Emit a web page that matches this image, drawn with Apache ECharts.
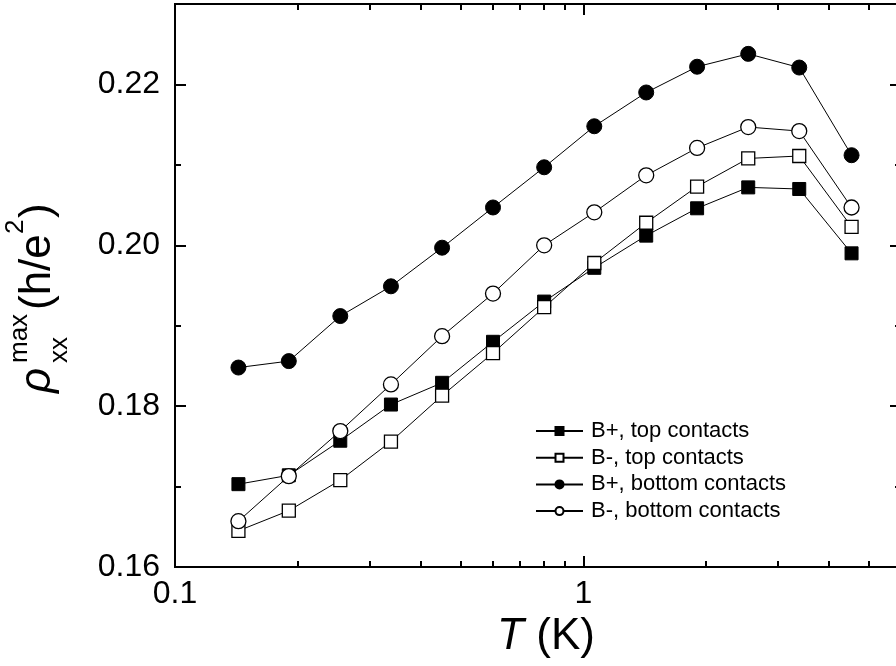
<!DOCTYPE html>
<html>
<head>
<meta charset="utf-8">
<script src="https://cdn.jsdelivr.net/npm/echarts@6/dist/echarts.min.js"></script>
<style>
html,body{margin:0;padding:0;overflow:hidden;background:#fff;width:896px;height:666px;}
#c{width:902px;height:666px;}
</style>
</head>
<body>
<div id="c"></div>
<script>
// Temperatures (K)
const temperatures = [0.143, 0.19, 0.254, 0.338, 0.451, 0.601, 0.802, 1.064, 1.426, 1.90, 2.535, 3.38, 4.54];
// rho_xx^max (h/e^2)
const bPlusTop = [0.1703, 0.1714, 0.1757, 0.1802, 0.1829, 0.1880, 0.1930, 0.1972, 0.2012, 0.2046, 0.2072, 0.2070, 0.1990];
const bMinusTop = [0.1645, 0.1670, 0.1708, 0.1756, 0.1813, 0.1866, 0.1923, 0.1978, 0.2028, 0.2073, 0.2108, 0.2111, 0.2023];
const bPlusBottom = [0.1848, 0.1856, 0.1912, 0.1949, 0.1997, 0.2047, 0.2097, 0.2148, 0.2190, 0.2222, 0.2238, 0.2221, 0.2112];
const bMinusBottom = [0.1657, 0.1713, 0.1769, 0.1827, 0.1887, 0.1940, 0.2000, 0.2041, 0.2087, 0.2121, 0.2147, 0.2142, 0.2047];
const seriesNames = ['B+, top contacts', 'B-, top contacts', 'B+, bottom contacts', 'B-, bottom contacts'];
// Axis ranges and tick values
const X_MIN = 0.1, X_MAX = 6;
const Y_MIN = 0.16, Y_MAX = 0.23;
const xMajorTicks = [0.1, 1];
const xMinorTicks = [0.2, 0.3, 0.4, 0.5, 0.6, 0.7, 0.8, 0.9, 2, 3, 4, 5, 6];
const yMajorTicks = [0.16, 0.18, 0.20, 0.22];
const yMinorTicks = [0.17, 0.19, 0.21];

const FONT = '"Liberation Sans", Arial, sans-serif';
const pair = (ys) => temperatures.map((t, i) => [t, ys[i]]);
const frameLine = { show: true, onZero: false, lineStyle: { color: '#000', width: 2 } };
const tickLine = { color: '#000', width: 2 };
const gridRect = { left: 175, top: 4, width: 726, height: 563, containLabel: false };

// Tick-only log x axis, identical in range to the data axis.
function xTickAxis(g, pos, ticks, len) {
  return {
    gridIndex: g, type: 'log', logBase: 10, min: X_MIN, max: X_MAX, position: pos,
    axisLine: frameLine,
    axisTick: { show: true, inside: true, length: len, customValues: ticks, lineStyle: tickLine },
    minorTick: { show: false }, axisLabel: { show: false }, splitLine: { show: false }
  };
}
function yTickAxis(g, pos, ticks, len) {
  return {
    gridIndex: g, type: 'value', min: Y_MIN, max: Y_MAX, position: pos,
    axisLine: frameLine,
    axisTick: { show: true, inside: true, length: len, customValues: ticks, lineStyle: tickLine },
    axisLabel: { show: false }, splitLine: { show: false }
  };
}

const filled = { color: '#000', borderColor: '#000', borderWidth: 1 };
const open = { color: '#fff', borderColor: '#000', borderWidth: 1.3 };
function lineSeries(name, ys, symbol, size, style) {
  return {
    name: name, type: 'line', data: pair(ys), symbol: symbol, symbolSize: size,
    showAllSymbol: true, xAxisIndex: 0, yAxisIndex: 0,
    lineStyle: { color: '#000', width: 1 }, itemStyle: style,
    emphasis: { disabled: true }
  };
}

const chart = echarts.init(document.getElementById('c'), null, { renderer: 'canvas' });
chart.setOption({
  animation: false,
  backgroundColor: '#fff',
  grid: [gridRect, gridRect, gridRect, gridRect],
  xAxis: [
    {
      gridIndex: 0, type: 'log', logBase: 10, min: X_MIN, max: X_MAX, position: 'bottom',
      axisLine: frameLine,
      axisTick: { show: true, inside: true, length: 11, customValues: xMajorTicks, lineStyle: tickLine },
      minorTick: { show: false }, splitLine: { show: false },
      axisLabel: {
        show: true, customValues: xMajorTicks, color: '#000', fontSize: 32, fontFamily: FONT, margin: 11,
        formatter: (v) => String(+(+v).toPrecision(3))
      },
      name: '{i|T} (K)', nameLocation: 'middle', nameGap: 48,
      nameTextStyle: { color: '#000', fontSize: 44, fontFamily: FONT, padding: [0, 0, 0, 16],
        rich: { i: { fontStyle: 'italic', fontSize: 44, fontFamily: FONT, color: '#000' } } }
    },
    xTickAxis(1, 'bottom', xMinorTicks, 6),
    xTickAxis(2, 'top', xMajorTicks, 11),
    xTickAxis(3, 'top', xMinorTicks, 6)
  ],
  yAxis: [
    {
      gridIndex: 0, type: 'value', min: Y_MIN, max: Y_MAX, position: 'left',
      axisLine: frameLine,
      axisTick: { show: true, inside: true, length: 11, customValues: yMajorTicks, lineStyle: tickLine },
      axisLabel: {
        show: true, customValues: yMajorTicks, color: '#000', fontSize: 32, fontFamily: FONT, margin: 15,
        formatter: (v) => (+v).toFixed(2)
      },
      splitLine: { show: false }
    },
    yTickAxis(1, 'left', yMinorTicks, 6),
    yTickAxis(2, 'right', yMajorTicks, 11),
    yTickAxis(3, 'right', yMinorTicks, 6)
  ],
  legend: {
    orient: 'vertical', left: 530, top: 415, padding: 5, itemWidth: 47, itemHeight: 10, itemGap: 4.7,
    textStyle: { color: '#000', fontSize: 22, fontFamily: FONT, lineHeight: 22, padding: [0, 0, 0, 3] },
    data: seriesNames, selectedMode: false
  },
  series: [
    lineSeries(seriesNames[0], bPlusTop, 'rect', 13, filled),
    lineSeries(seriesNames[1], bMinusTop, 'rect', 13, open),
    lineSeries(seriesNames[2], bPlusBottom, 'circle', 15, filled),
    lineSeries(seriesNames[3], bMinusBottom, 'circle', 15, open)
  ],
  graphic: [{
    type: 'group', x: 38, y: 395, rotation: Math.PI / 2,
    children: [
      { type: 'text', x: 2, y: 0, style: { text: 'ρ', font: 'italic 44px ' + FONT, fill: '#000', align: 'left', verticalAlign: 'middle' } },
      { type: 'text', x: 32, y: 22, style: { text: 'xx', font: '26px ' + FONT, fill: '#000', align: 'left', verticalAlign: 'middle' } },
      { type: 'text', x: 32, y: -18, style: { text: 'max', font: '26px ' + FONT, fill: '#000', align: 'left', verticalAlign: 'middle' } },
      { type: 'text', x: 85, y: 0, style: { text: '(h/e', font: '44px ' + FONT, fill: '#000', align: 'left', verticalAlign: 'middle' } },
      { type: 'text', x: 161, y: -22, style: { text: '2', font: '26px ' + FONT, fill: '#000', align: 'left', verticalAlign: 'middle' } },
      { type: 'text', x: 177, y: 0, style: { text: ')', font: '44px ' + FONT, fill: '#000', align: 'left', verticalAlign: 'middle' } }
    ]
  }]
});
</script>
</body>
</html>
